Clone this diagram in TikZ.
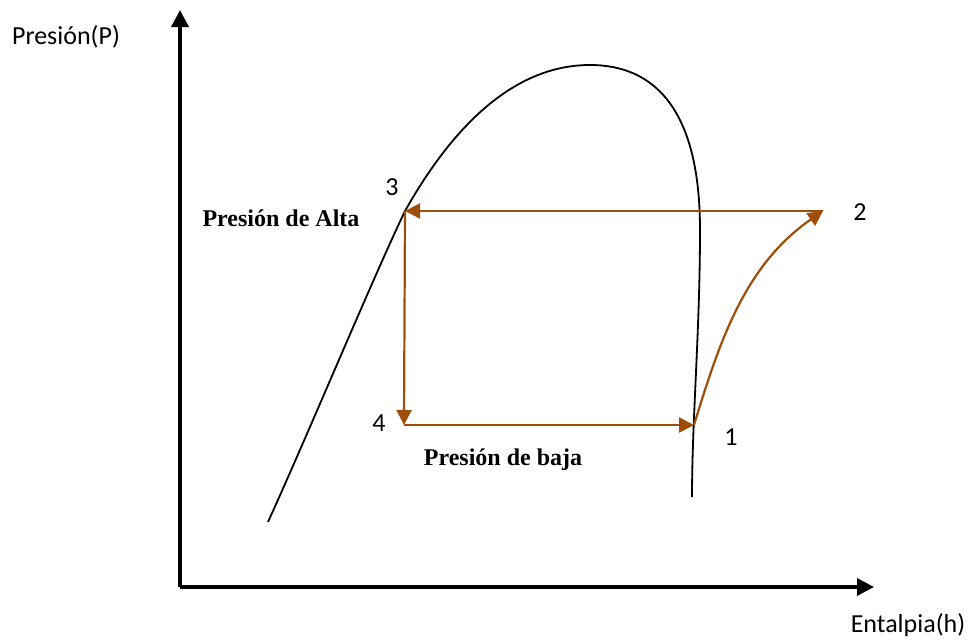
\documentclass[tikz,border=0pt]{standalone}
\usepackage{fontspec}
\setmainfont{Liberation Serif}
\newfontfamily\calib{Carlito}
\usetikzlibrary{arrows.meta}
\definecolor{cycbrown}{RGB}{158,78,8}
\tikzset{
  axisline/.style={line width=3.5pt,-{Triangle[length=17pt,width=17pt]}},
  domeline/.style={line width=1.8pt},
  cycline/.style={cycbrown,line width=2.2pt,-{Triangle[length=15pt,width=15pt]}},
  sanslabel/.style={font=\calib\fontsize{26}{30}\selectfont,inner sep=0pt},
  boldlabel/.style={font=\bfseries\fontsize{24}{28}\selectfont,inner sep=0pt},
}
\begin{document}
\begin{tikzpicture}[x=1pt,y=-1pt]
\useasboundingbox (0,0) rectangle (969,643);
% axes
\coordinate (O) at (180,587);
\coordinate (ytip) at (180,10);
\coordinate (xtip) at (874,587);
\draw[axisline] (O) -- (ytip);
\draw[axisline] (O) -- (xtip);
\node[sanslabel] (ylab) at (66,37) {Presión(P)};
\node[sanslabel] (xlab) at (908,625) {Entalpia(h)};
% saturation dome
\coordinate (d0) at (268,522);
\coordinate (p3) at (405,211);
\coordinate (dpk) at (590,65);
\coordinate (dr) at (700,230);
\coordinate (dend) at (692,497);
\draw[domeline] (d0) .. controls (312,425) and (372,280) .. (p3)
  .. controls (462,110) and (525,65) .. (dpk)
  .. controls (655,65) and (700,110) .. (dr)
  .. controls (700,330) and (692,420) .. (dend);
% cycle points
\coordinate (p2) at (823,211);
\coordinate (p4) at (404,425);
\coordinate (p1) at (694,425);
\draw[cycline] (p2) -- (p3);
\draw[cycline] (p3) -- (p4);
\draw[cycline] (p4) -- (p1);
\draw[cycline] (p1) .. controls (720,340) and (745,265) .. (p2);
% labels
\node[sanslabel] (n3) at (392,187) {3};
\node[sanslabel] (n2) at (860,212) {2};
\node[sanslabel] (n4) at (379,423) {4};
\node[sanslabel] (n1) at (731,437) {1};
\node[boldlabel] (alta) at (281,218) {Presión de Alta};
\node[boldlabel] (baja) at (503,460) {Presión de baja};
\end{tikzpicture}
\end{document}
